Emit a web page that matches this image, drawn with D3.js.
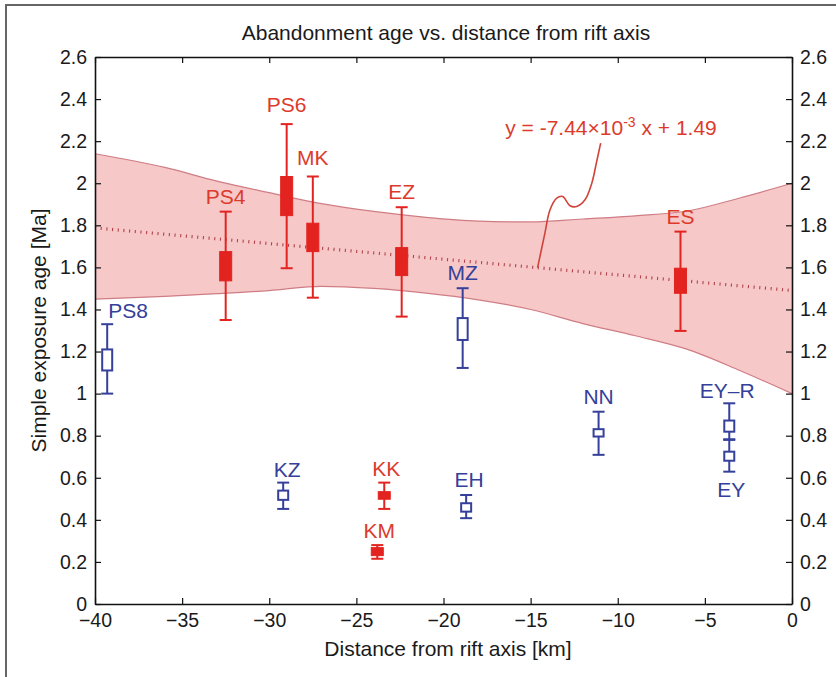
<!DOCTYPE html>
<html>
<head>
<meta charset="utf-8">
<script src="https://cdn.jsdelivr.net/npm/d3@7"></script>
<style>
  body { margin: 0; background: #fff; }
  text { font-family: "Liberation Sans", Arial, sans-serif; }
</style>
</head>
<body>
<svg id="chart" width="836" height="677"></svg>
<script>
// Samples on the fitted trend (filled red boxes)
const redNames = ["PS4", "PS6", "MK", "EZ", "ES", "KK", "KM"];
const redDist  = [-32.5, -29.0, -27.5, -22.4, -6.4, -23.4, -23.8];
const redLow   = [1.350, 1.596, 1.456, 1.366, 1.298, 0.452, 0.215];
const redQ1    = [1.536, 1.846, 1.675, 1.561, 1.477, 0.498, 0.230];
const redQ3    = [1.675, 2.032, 1.810, 1.694, 1.596, 0.534, 0.268];
const redHigh  = [1.865, 2.281, 2.032, 1.886, 1.770, 0.577, 0.280];

// Other samples (open blue boxes)
const blueNames = ["PS8", "KZ", "EH", "MZ", "NN", "EY–R", "EY"];
const blueDist  = [-39.3, -29.2, -18.7, -18.9, -11.1, -3.6, -3.6];
const blueLow   = [1.000, 0.452, 0.408, 1.122, 0.709, 0.783, 0.629];
const blueQ1    = [1.110, 0.495, 0.439, 1.255, 0.796, 0.819, 0.681];
const blueQ3    = [1.210, 0.539, 0.479, 1.359, 0.831, 0.872, 0.724];
const blueHigh  = [1.330, 0.577, 0.518, 1.501, 0.914, 0.954, 0.780];

// Linear fit  y = -7.44e-3 x + 1.49  and its confidence band
const fitSlope = -7.44e-3;
const fitIntercept = 1.49;
const bandDist  = [-40, -36, -33, -30, -27, -24, -21, -18, -15, -12, -9, -6, -3, 0];
const bandUpper = [2.140, 2.075, 2.010, 1.955, 1.903, 1.866, 1.838, 1.820, 1.816, 1.830, 1.845, 1.868, 1.930, 2.000];
const bandLower = [1.449, 1.462, 1.475, 1.490, 1.510, 1.500, 1.478, 1.446, 1.400, 1.333, 1.275, 1.210, 1.110, 1.000];

// Callout curve from the fit line up to the equation (data units)
const calloutDist = [-14.6, -14.18, -13.89, -13.50, -13.16, -12.74, -12.36, -11.88, -11.49, -11.21, -10.98];
const calloutAge  = [1.599, 1.763, 1.873, 1.929, 1.937, 1.893, 1.889, 1.921, 2.000, 2.103, 2.191];

// Axis ticks
const xTicks = [-40, -35, -30, -25, -20, -15, -10, -5, 0];
const yTicks = [0, 0.2, 0.4, 0.6, 0.8, 1, 1.2, 1.4, 1.6, 1.8, 2, 2.2, 2.4, 2.6];

const titleText = "Abandonment age vs. distance from rift axis";
const xLabelText = "Distance from rift axis [km]";
const yLabelText = "Simple exposure age [Ma]";

// Label placement tweaks (pixels): default is centred above the upper whisker
const labelTweaks = {
  "PS8": { dx: 21, dy: -6 },
  "PS6": { dx: 0, dy: -12 },
  "MK":  { dx: 0, dy: -11 },
  "KZ":  { dx: 4, dy: -6 },
  "KK":  { dx: 2, dy: -7 },
  "KM":  { dx: 2, dy: -7 },
  "EH":  { dx: 3, dy: -8 },
  "EY–R": { dx: -2, dy: -5 },
  "EY":  { dx: 2, dy: 25, below: true }
};

const RED = "#e3231f";
const RED_TEXT = "#dc3b2c";
const BLUE = "#34409a";
const INK = "#1a1a1a";

const svg = d3.select("#chart");
const margin = { left: 95, top: 57, right: 44, bottom: 73 };
const W = 836, H = 677;

// figure frame
svg.append("rect").attr("x", 6).attr("y", 5).attr("width", 860).attr("height", 700)
  .attr("fill", "#fff").attr("stroke", "#666").attr("stroke-width", 2);

const x = d3.scaleLinear().domain([-40, 0]).range([margin.left, W - margin.right]);
const y = d3.scaleLinear().domain([0, 2.6]).range([H - margin.bottom, margin.top]);

// confidence band
const band = bandDist.map((d, i) => ({ d, u: bandUpper[i], l: bandLower[i] }));
svg.append("path").datum(band)
  .attr("d", d3.area().x(p => x(p.d)).y0(p => y(p.l)).y1(p => y(p.u)).curve(d3.curveMonotoneX))
  .attr("fill", "#f6c8c8");
["u", "l"].forEach(k => {
  svg.append("path").datum(band)
    .attr("d", d3.line().x(p => x(p.d)).y(p => y(p[k])).curve(d3.curveMonotoneX))
    .attr("fill", "none").attr("stroke", "#cf7d84").attr("stroke-width", 1.2);
});

// fit line (short vertical dashes)
svg.append("line")
  .attr("x1", x(-40)).attr("y1", y(fitSlope * -40 + fitIntercept))
  .attr("x2", x(0)).attr("y2", y(fitSlope * 0 + fitIntercept))
  .attr("stroke", "#b0434b").attr("stroke-width", 3.2).attr("stroke-dasharray", "1.1,4.6");

// box-and-whisker marks
function drawSamples(names, dist, lo, q1, q3, hi, color, filled) {
  const g = svg.append("g");
  names.forEach((n, i) => {
    const cx = x(dist[i]);
    const cap = 6, half = filled ? 6 : 5;
    g.append("line").attr("x1", cx).attr("x2", cx).attr("y1", y(hi[i])).attr("y2", y(lo[i]))
      .attr("stroke", color).attr("stroke-width", 2);
    [hi[i], lo[i]].forEach(v => {
      g.append("line").attr("x1", cx - cap).attr("x2", cx + cap).attr("y1", y(v)).attr("y2", y(v))
        .attr("stroke", color).attr("stroke-width", 2);
    });
    g.append("rect").attr("x", cx - half).attr("width", half * 2)
      .attr("y", y(q3[i])).attr("height", y(q1[i]) - y(q3[i]))
      .attr("fill", filled ? color : "#fff")
      .attr("stroke", color).attr("stroke-width", filled ? 1 : 2);
  });
}
drawSamples(redNames, redDist, redLow, redQ1, redQ3, redHigh, RED, true);
drawSamples(blueNames, blueDist, blueLow, blueQ1, blueQ3, blueHigh, BLUE, false);

// sample labels
function drawLabels(names, dist, lo, hi, color) {
  names.forEach((n, i) => {
    const t = labelTweaks[n] || { dx: 0, dy: -8 };
    const base = t.below ? y(lo[i]) : y(hi[i]);
    svg.append("text").attr("x", x(dist[i]) + t.dx).attr("y", base + t.dy)
      .attr("text-anchor", "middle").attr("font-size", 21).attr("fill", color).text(n);
  });
}
drawLabels(redNames, redDist, redLow, redHigh, RED_TEXT);
drawLabels(blueNames, blueDist, blueLow, blueHigh, BLUE);

// equation callout
const callout = calloutDist.map((d, i) => [x(d), y(calloutAge[i])]);
svg.append("path").attr("d", d3.line().curve(d3.curveCatmullRom)(callout))
  .attr("fill", "none").attr("stroke", "#d0433a").attr("stroke-width", 1.6);
const eq = svg.append("text").attr("x", 611).attr("y", 135)
  .attr("text-anchor", "middle").attr("font-size", 21).attr("fill", RED_TEXT);
eq.append("tspan").text("y = -7.44×10");
eq.append("tspan").attr("dy", -8).attr("font-size", 14).text("-3");
eq.append("tspan").attr("dy", 8).text(" x + 1.49");

// axes (box with inward ticks)
const fmtY = d3.format("~g");
const axisStyle = g => {
  g.selectAll("path.domain").attr("stroke", "#111").attr("stroke-width", 1.6);
  g.selectAll(".tick line").attr("stroke", "#111").attr("stroke-width", 1.2);
  g.selectAll("text").attr("font-size", 19.5).attr("fill", INK)
    .attr("font-family", "'Liberation Sans', Arial, sans-serif");
};
svg.append("g").attr("transform", `translate(0,${H - margin.bottom})`)
  .call(d3.axisBottom(x).tickValues(xTicks).tickSizeInner(-6).tickSizeOuter(0).tickPadding(9))
  .call(axisStyle);
svg.append("g").attr("transform", `translate(0,${margin.top})`)
  .call(d3.axisTop(x).tickValues(xTicks).tickSizeInner(-6).tickSizeOuter(0).tickFormat(""))
  .call(axisStyle);
svg.append("g").attr("transform", `translate(${margin.left},0)`)
  .call(d3.axisLeft(y).tickValues(yTicks).tickSizeInner(-6).tickSizeOuter(0).tickPadding(8).tickFormat(fmtY))
  .call(axisStyle);
svg.append("g").attr("transform", `translate(${W - margin.right},0)`)
  .call(d3.axisRight(y).tickValues(yTicks).tickSizeInner(-6).tickSizeOuter(0).tickPadding(8).tickFormat(fmtY))
  .call(axisStyle);

// titles
svg.append("text").attr("x", 446).attr("y", 40)
  .attr("text-anchor", "middle").attr("font-size", 21).attr("fill", INK).text(titleText);
svg.append("text").attr("x", 448).attr("y", 656)
  .attr("text-anchor", "middle").attr("font-size", 21).attr("fill", INK).text(xLabelText);
svg.append("text").attr("transform", `translate(46,${(margin.top + H - margin.bottom) / 2}) rotate(-90)`)
  .attr("text-anchor", "middle").attr("font-size", 21).attr("fill", INK).text(yLabelText);
</script>
</body>
</html>
